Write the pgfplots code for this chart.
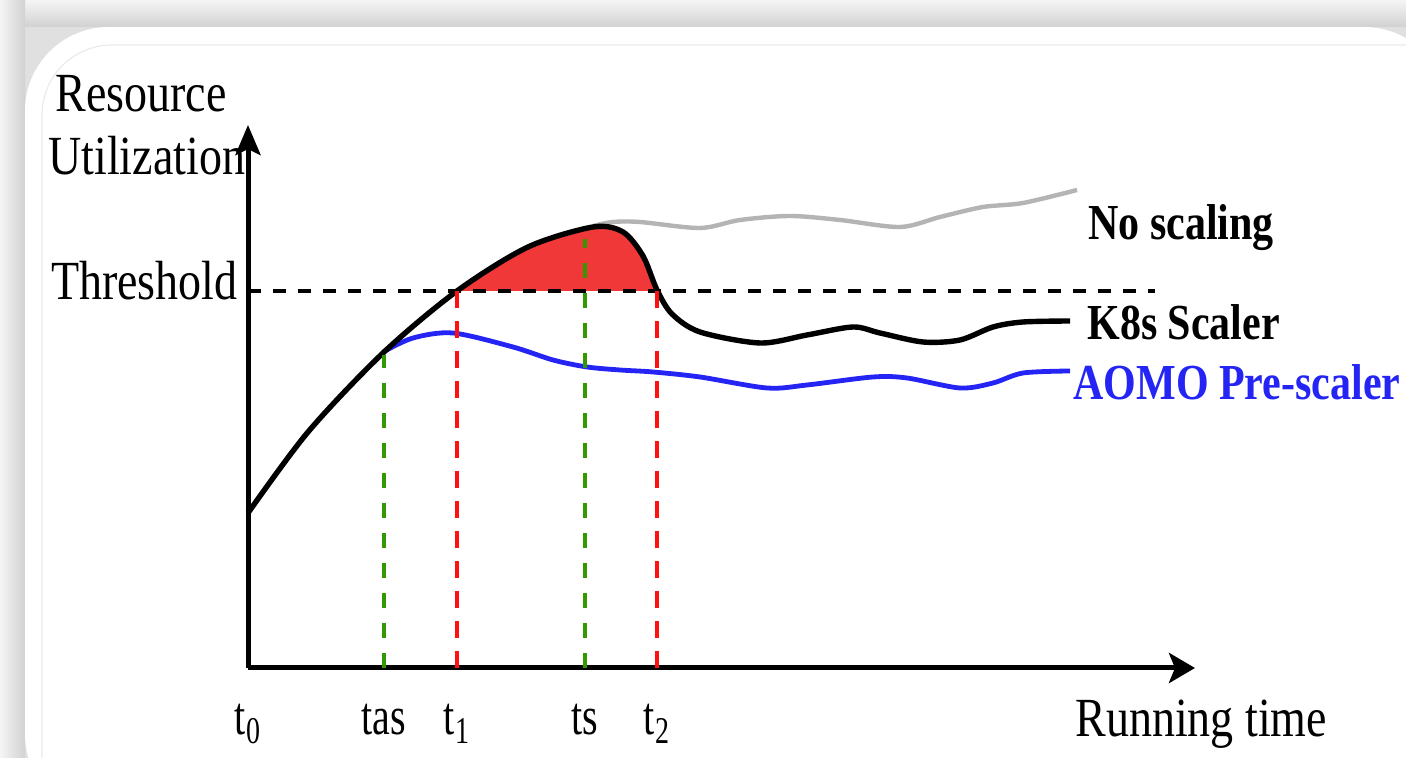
\documentclass[border=0pt]{standalone}
\usepackage{fontspec}
\setmainfont{Liberation Serif}
\usepackage{graphicx}
\usepackage{pgfplots}
\usepackage{pgfplotstable}
\pgfplotsset{compat=1.18}
\usepgfplotslibrary{fillbetween}
\usetikzlibrary{arrows.meta}
\definecolor{aomoblue}{HTML}{2424F5}
\definecolor{fillred}{HTML}{F03838}
\definecolor{dgreen}{HTML}{339900}
\definecolor{dred}{HTML}{FF1010}
\definecolor{noscale}{HTML}{B4B4B4}
\newcommand{\vs}[1]{\scalebox{1}[1.2]{#1}}
\newcommand{\vt}[1]{\scalebox{1}[1.35]{#1}}

\pgfplotstableread{
x y
0 155
60 236
135 315
209 377
280 421
345 441
375 436
395 412
409 378
424 354
452 336
512 325
559 333
605 341
632 335
675 326
712 328
745 341
775 346
822 347
}\kEight

\pgfplotstableread{
x y
345 442
365 446
392 446
452 440
492 448
542 452
592 448
652 441
692 451
735 461
775 465
829 478
}\noScaling

\pgfplotstableread{
x y
135 316
165 330
205 335
265 321
305 308
339 301
372 298
405 296
452 291
519 280
559 283
625 291
659 290
712 280
745 285
775 295
822 297
}\aomo

\begin{document}
\begin{tikzpicture}
\begin{axis}[
  set layers,
  at={(124pt,45pt)}, anchor=south west,
  x=0.5pt, y=0.5pt,
  xmin=0, xmax=947, ymin=0, ymax=543,
  axis lines=left,
  x axis line style={line width=2.5pt, -{Stealth[length=13pt,width=15pt,inset=3pt]}},
  y axis line style={line width=2.5pt, -{Stealth[length=15pt,width=12.5pt,inset=3pt]}},
  clip=false,
  major tick length=0pt,
  tick style={draw=none},
  xtick={0,136,209,337,409},
  xticklabels={\vt{t\textsubscript{0}}, \vt{tas}, \vt{t\textsubscript{1}}, \vt{ts}, \vt{t\textsubscript{2}}},
  xticklabel style={font=\fontsize{20}{24}\selectfont, anchor=base, inner sep=0pt, yshift=-33.5pt},
  ytick={377},
  yticklabels={\vs{Threshold}},
  yticklabel style={font=\fontsize{23}{27}\selectfont, anchor=base east, inner sep=0pt, xshift=-5pt, yshift=-4.5pt},
]
\begin{pgfonlayer}{axis background}
\fill[white!88!black] (axis cs:-248,-90) rectangle (axis cs:1158,668);
\shade[top color=white!96!black, bottom color=white!82!black] (axis cs:-248,641) rectangle (axis cs:1158,668);
\shade[left color=white!96!black, right color=white!82!black] (axis cs:-248,-90) rectangle (axis cs:-223,668);
\fill[white, rounded corners=42pt] (axis cs:-223,-150) rectangle (axis cs:1200,641);
\draw[white!92!black, line width=0.6pt, rounded corners=35pt] (axis cs:-206,-150) -- (axis cs:-206,623) -- (axis cs:1200,623);
\end{pgfonlayer}

\addplot[draw=none, name path=k8spath, smooth, tension=0.5] table {\kEight};
\addplot[draw=none, name path=thrpath] coordinates {(0,377) (907,377)};
\addplot[fillred, draw=none] fill between[of=k8spath and thrpath, soft clip={domain=209:409}];

\addplot[noscale, line width=2.2pt, smooth, tension=0.5] table {\noScaling};
\addplot[aomoblue, line width=2.4pt, smooth, tension=0.5] table {\aomo};
\addplot[black, line width=2.7pt, smooth, tension=0.5] table {\kEight};

\addplot[black, line width=2.3pt, dash pattern=on 6.5pt off 6pt] coordinates {(0,377) (907,377)};
\addplot[dgreen, line width=2pt, dash pattern=on 7.5pt off 7.5pt] coordinates {(136,0) (136,313)};
\addplot[dred, line width=2pt, dash pattern=on 8.5pt off 6.5pt] coordinates {(209,0) (209,377)};
\addplot[dgreen, line width=2pt, dash pattern=on 7.5pt off 7.5pt] coordinates {(337,0) (337,429)};
\addplot[dred, line width=2pt, dash pattern=on 8.5pt off 6.5pt] coordinates {(409,0) (409,377)};

\node[anchor=base west, inner sep=0pt, font=\fontsize{23}{27}\selectfont] at (axis cs:-193,556) {\vs{Resource}};
\node[anchor=base west, inner sep=0pt, font=\fontsize{23}{27}\selectfont] at (axis cs:-200,493) {\vs{Utilization}};
\node[anchor=base west, inner sep=0pt, font=\fontsize{23}{27}\selectfont] at (axis cs:827,-69) {\vs{Running time}};
\node[anchor=base west, inner sep=0pt, font=\bfseries\fontsize{21}{25}\selectfont] at (axis cs:840,428) {\vs{No scaling}};
\node[anchor=base west, inner sep=0pt, font=\bfseries\fontsize{21}{25}\selectfont] at (axis cs:839,328) {\vs{K8s Scaler}};
\node[anchor=base west, inner sep=0pt, font=\bfseries\fontsize{21}{25}\selectfont, text=aomoblue] at (axis cs:825,268) {\vs{AOMO Pre-scaler}};
\end{axis}
\pgfresetboundingbox
\useasboundingbox (0,0) rectangle (703pt,379pt);
\end{tikzpicture}
\end{document}
